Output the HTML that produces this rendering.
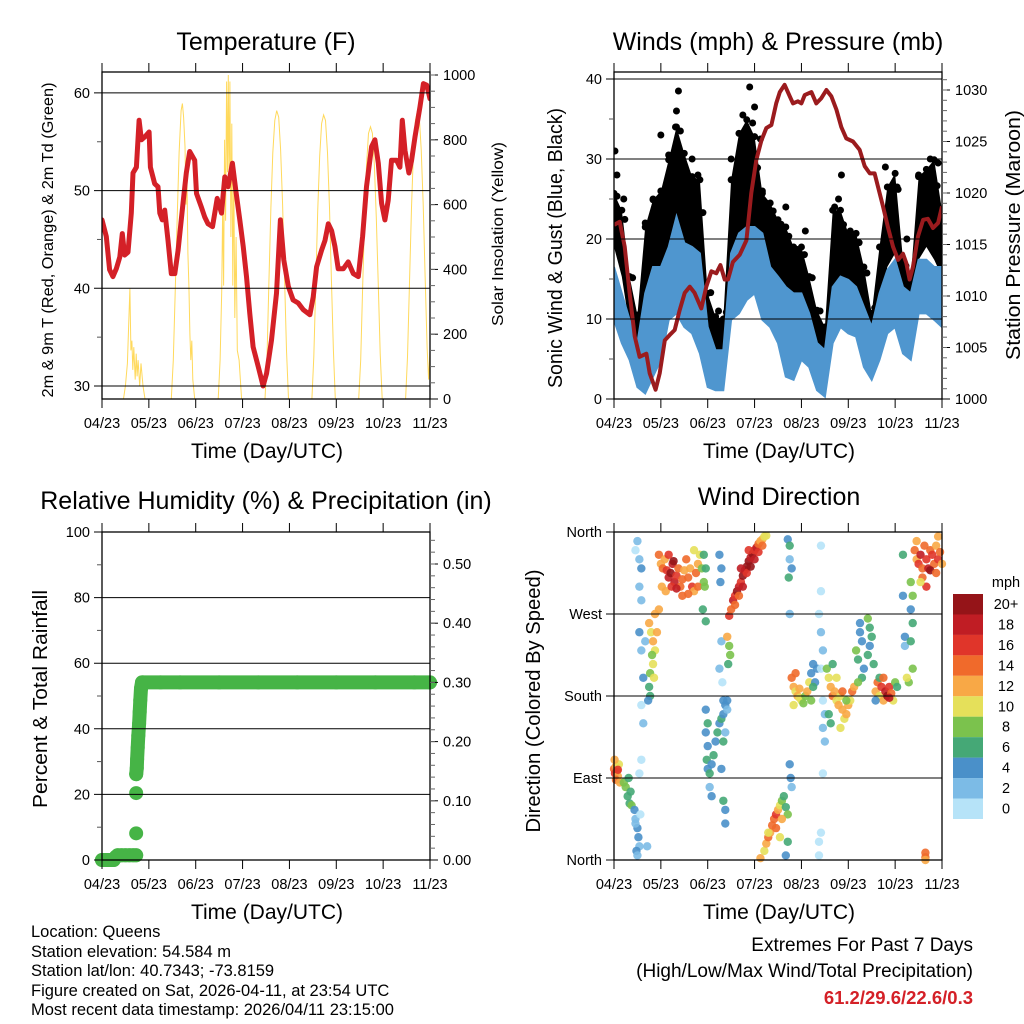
<!DOCTYPE html>
<html><head><meta charset="utf-8"><style>
html,body{margin:0;padding:0;background:#fff;}
svg{display:block;font-family:"Liberation Sans",Arial,sans-serif;}
</style></head><body>
<svg id="chart" width="1024" height="1024" viewBox="0 0 1024 1024" xmlns="http://www.w3.org/2000/svg">
<rect x="0" y="0" width="1024" height="1024" fill="#fff"/>
<defs>
<clipPath id="c1"><rect x="102" y="72" width="328" height="327"/></clipPath>
<clipPath id="c2"><rect x="614" y="72" width="328" height="327"/></clipPath>
<clipPath id="c3"><rect x="94" y="524" width="345" height="345"/></clipPath>
<clipPath id="c4"><rect x="606" y="524" width="345" height="345"/></clipPath>
</defs>
<g id="marks"></g>
<g id="axes"></g>
<g fill="#000">
<text x="266" y="50" font-size="25" text-anchor="middle">Temperature (F)</text>
<text x="778" y="50" font-size="25" text-anchor="middle">Winds (mph) &amp; Pressure (mb)</text>
<text x="266" y="509" font-size="25" text-anchor="middle">Relative Humidity (%) &amp; Precipitation (in)</text>
<text x="779" y="505" font-size="25" text-anchor="middle">Wind Direction</text>
<text x="267" y="458" font-size="21" text-anchor="middle">Time (Day/UTC)</text>
<text x="779" y="458" font-size="21" text-anchor="middle">Time (Day/UTC)</text>
<text x="267" y="919" font-size="21" text-anchor="middle">Time (Day/UTC)</text>
<text x="779" y="919" font-size="21" text-anchor="middle">Time (Day/UTC)</text>
<text transform="translate(53,240) rotate(-90)" font-size="16" text-anchor="middle" textLength="315" lengthAdjust="spacingAndGlyphs">2m &amp; 9m T (Red, Orange) &amp; 2m Td (Green)</text>
<text transform="translate(503,234) rotate(-90)" font-size="16" text-anchor="middle" textLength="184" lengthAdjust="spacingAndGlyphs">Solar Insolation (Yellow)</text>
<text transform="translate(562,248) rotate(-90)" font-size="20" text-anchor="middle" textLength="280" lengthAdjust="spacingAndGlyphs">Sonic Wind &amp; Gust (Blue, Black)</text>
<text transform="translate(1020,235) rotate(-90)" font-size="20" text-anchor="middle" textLength="250" lengthAdjust="spacingAndGlyphs">Station Pressure (Maroon)</text>
<text transform="translate(47,699) rotate(-90)" font-size="20" text-anchor="middle" textLength="218" lengthAdjust="spacingAndGlyphs">Percent &amp; Total Rainfall</text>
<text transform="translate(540,701) rotate(-90)" font-size="20" text-anchor="middle" textLength="263" lengthAdjust="spacingAndGlyphs">Direction (Colored By Speed)</text>
</g>
<g font-size="16.5" fill="#000">
<text x="31" y="937">Location: Queens</text>
<text x="31" y="957">Station elevation: 54.584 m</text>
<text x="31" y="976">Station lat/lon: 40.7343; -73.8159</text>
<text x="31" y="996">Figure created on Sat, 2026-04-11, at 23:54 UTC</text>
<text x="31" y="1015">Most recent data timestamp: 2026/04/11 23:15:00</text>
</g>
<g text-anchor="end">
<text x="973" y="951" font-size="19">Extremes For Past 7 Days</text>
<text x="973" y="977" font-size="19">(High/Low/Max Wind/Total Precipitation)</text>
<text x="973" y="1004" font-size="18.5" font-weight="bold" fill="#d42027">61.2/29.6/22.6/0.3</text>
</g>
</svg>
<script>
// ---------- DATA ----------
const dayLabels = ["04/23","05/23","06/23","07/23","08/23","09/23","10/23","11/23"];
const tempT = [0,2.2,3.9,5.6,7.3,9.1,10.4,11.6,13.3,15.0,15.9,17.6,19.0,20.2,21.9,24.1,24.8,27.0,28.7,29.6,30.9,32.1,33.8,35.5,37.3,39.0,41.5,43.2,44.9,47.5,48.4,50.9,52.6,54.3,56.6,59.0,61.2,62.9,64.6,66.8,68.5,70.6,72.3,74.0,75.7,77.4,80.0,82.5,84.3,86.8,89.4,91.4,93.1,95.4,97.9,100.5,103.1,106.5,108.2,109.9,112.5,114.2,115.9,117.6,119.3,121.0,123.6,126.1,128.7,131.3,133.5,135.5,138.1,139.8,141.5,143.2,144.9,146.6,148.3,150.9,152.6,153.8,155.2,157.2,158.6,160.3,162.9,164.6,166.3,168];
const tempV = [47.0,45.3,41.9,41.2,42.0,43.2,45.6,43.4,43.7,47.7,51.8,52.4,57.2,55.2,55.5,56.0,52.4,50.7,50.4,47.7,47.0,48.0,44.9,41.5,41.5,43.9,48.7,51.8,54.0,53.1,49.7,48.3,47.3,46.6,46.3,49.2,47.7,51.4,50.4,52.8,50.1,47.0,44.3,41.2,37.4,34.0,32.0,30.0,31.3,34.7,39.5,47.0,42.9,40.2,38.8,38.5,37.8,37.3,39.1,42.2,43.9,44.9,46.6,45.9,44.3,42.0,42.0,42.7,41.5,41.2,45.3,50.4,54.5,55.2,52.8,48.7,47.0,49.0,53.1,53.1,52.4,57.2,54.1,51.8,53.1,55.5,58.6,60.95,60.8,59.4];
const solarT = [11,12,13,13.8,14.3,14.8,15.3,15.8,16.3,17,17.5,18,18.5,19.3,20,21,22, 35.5,36.5,37.5,38.5,39.5,40.5,41.2,41.8,42.5,43,43.5,44,44.5,45,45.5,46,46.5,47.5, 59.5,60.5,61.3,61.8,62.3,62.8,63.3,63.8,64.3,64.7,65.1,65.5,66,66.5,67,67.5,68,68.7,69.3,70.2,71.5, 83.5,84.5,85.5,86.5,87.5,88.5,89.5,90.5,91.5,92.5,93.5,94.5,95.5, 107.5,108.5,109.5,110.5,111.5,112.5,113.5,114.5,115.5,116.5,117.5,118.5,119.5, 131.5,132.5,133.5,134.5,135.5,136.5,137.5,138.5,139.5,140.5,141.5,142.5,143.5, 155.5,156.5,157.5,158.5,159.5,160.5,161.5,162.5,163.5,164.5,165.5,166.5,167.3,168];
const solarV = [0,40,110,250,340,150,180,90,160,60,140,70,120,40,110,40,0, 0,120,330,560,760,890,912,870,780,600,700,450,350,200,120,180,60,0, 0,120,330,600,350,800,550,980,700,1000,650,980,500,850,350,700,250,500,150,120,0, 0,130,360,590,760,860,890,870,770,600,380,150,0, 0,130,355,580,750,850,877,860,760,590,370,150,0, 0,120,340,560,720,820,840,820,720,560,350,140,0, 0,130,360,590,760,860,887,870,770,600,380,160,60,150];
const presT = [0,2.9,5.5,8.0,10.6,13.1,16.6,18.3,21.3,23.4,26.0,28.5,31.1,33.6,36.2,38.8,41.3,44.7,47.3,49.9,52.4,54.5,56.7,58.4,60.9,64.4,67.8,70.3,72.9,75.5,78.0,80.6,83.1,84.9,87.4,90.0,91.7,94.2,96.0,97.7,101.1,103.6,106.2,108.8,111.3,113.9,116.4,119.0,122.4,125.8,128.4,131.0,133.5,135.2,137.8,140.3,142.9,145.5,148.0,149.7,151.4,153.1,155.7,158.3,160.8,163.4,166.0,168];
const presV = [1016.9,1017.2,1014.8,1010.3,1006.1,1004.1,1004.4,1002.5,1000.9,1002.5,1005.7,1006.2,1006.7,1008.6,1010.3,1010.9,1010.3,1008.8,1010.9,1012.4,1012.2,1013.0,1011.6,1011.6,1013.3,1014.0,1015.4,1020.0,1023.2,1025.1,1026.3,1026.6,1028.7,1029.8,1030.5,1029.4,1028.7,1028.9,1028.7,1029.5,1029.8,1028.7,1029.2,1030.0,1029.4,1028.1,1026.4,1025.3,1025.0,1024.2,1022.6,1021.9,1021.9,1020.6,1018.7,1016.7,1014.8,1013.5,1014.1,1013.2,1011.6,1012.8,1015.8,1017.4,1017.5,1016.6,1017.1,1018.7];
const windT = [0,4,8,12,16,20,24,28,32,36,40,44,48,52,56,60,64,68,72,76,80,84,88,92,96,100,104,108,112,116,120,124,128,132,136,140,144,148,152,156,160,164,168];
const windHi = [16.5,13.2,9.9,7.0,13.2,16.5,16.5,19.0,22.8,19.5,19.0,18.2,9.0,6.1,6.1,18.2,20.7,21.5,21.5,20.7,16.5,15.3,14.0,13.2,13.2,10.7,7.0,6.1,14.0,15.3,14.9,14.0,11.5,9.0,13.2,16.1,17.4,14.0,13.2,17.4,17.4,16.5,16.5];
const windLo = [9.9,7.0,4.9,1.5,0.7,2.8,4.9,9.9,10.7,9.0,8.2,5.7,1.5,1.1,1.1,9.9,10.7,12.4,13.2,9.9,9.0,7.0,2.8,2.4,4.9,4.0,1.1,0.3,7.0,9.0,8.2,7.8,4.0,2.4,4.9,8.2,9.0,5.7,4.9,10.7,10.7,9.9,9.0];
const gustHi = [25.7,23.6,15.3,10.5,21.5,24.9,26.0,29.9,34.0,30.7,27.8,27.4,13.2,10.3,10.0,27.4,33.2,34.9,32.8,25.7,24.5,22.4,21.5,19.0,19.0,15.3,11.1,9.0,23.6,23.6,20.7,20.7,16.5,10.7,19.0,26.5,28.2,17.4,15.3,27.8,28.7,29.9,23.6];
const gustLo = [19.0,15.3,9.0,3.5,7.0,13.2,14.0,17.4,19.5,17.4,15.3,13.2,7.4,5.7,5.7,16.5,19.5,21.5,19.0,17.4,16.5,15.3,13.2,12.4,11.1,9.0,4.9,2.4,13.2,14.0,13.2,12.4,9.0,6.1,9.9,16.5,18.2,9.9,7.8,17.4,19.0,17.4,15.3];
const gustPkT = [0.5,1.5,5,16,20,24,28,31.5,32,33,34,40,43,60,66,69.5,71,72,75,76,88,98,113,115,116.5,121,139,145,150,156,159,162,166];
const gustPkV = [31,28,25,22,25,33,30.5,34,36,38.5,33.5,30,28,30,35.5,39,34.5,36.5,32.5,26,24,21,24,25,28,21,29,26.5,20,28,27,30,29.5];
const precipT = [0,2,4,6,7,8,10,12,14,16,17.5,17.5,17.5,17.5,17.8,18,18.3,18.6,19,19.3,19.6,20,20.5,21,30,40,60,80,100,120,140,160,168];
const precipV = [0,0,0,0,0.005,0.008,0.008,0.008,0.008,0.008,0.008,0.045,0.113,0.145,0.155,0.17,0.19,0.21,0.23,0.25,0.27,0.29,0.30,0.30,0.30,0.30,0.30,0.30,0.30,0.30,0.30,0.30,0.30];
const dirT = [0,0.5,1,1.5,2,2.5,1,3,0.3,2, 5,6,7,8,9,8.5,7.5, 10.5,11,12,12.5,13,11.5,12,11,13.5, 12,11,13,14,13,14,13,16,14,15,14,15,14,13,17, 18,19,20,21,19.5,20,18.5,21,23,22,20.5, 18,18.5,17.5,
23,24,25,26,27,28,29,30,31,32,33,34,35,36,37,38,39,40,41,42,43,44,45,46,24.5,26.5,29.5,35,38,41,43,30.5,28,32,
46,47,46.5,45.5,47, 54,55,54.5,55,54,55.5,56,
47,48,47,48,47.5,48,49,50,51,52,53,54,55,56,57,58,56,55,49,50,57,58, 56,57,57, 58,59,59.5,58.5,
59,60,61,62,63,64,65,66,67,68,69,70,71,72,73,74,75,76,77,78,62,64,66,68,70,72,74,76,65,69,
75,77,78,79,80,81,82,83,84,85,86,87,88,89,79,83,86,85,89,88, 90,90.5,91, 89,90,90,91,89.5,90,
91,92,93,94,95,96,97,98,99,100,101,92,93,95, 101,102,103,104,102,
105,106,107,106,107,108,107,108,107,106,106,105,106,105,
109,110,111,112,113,114,115,116,117,118,119,120,121,122,123,110,112,114,117,119,111,116,
124,125,126,127,128,127,125,126, 130,131,132,131,130,133,
134,135,136,137,138,139,140,141,142,143,144,145,136,134,138,141, 148,148,149,149, 152,153,152,153,152,153,151,150,
154,155,156,157,158,159,160,161,162,163,164,165,166,167,168,155,158,160,162,165,157,166, 159.5,159.5,159.5];
const dirDeg = [100,95,103,98,92,105,88,85,110,99, 85,80,70,62,60,75,90, 55,45,35,25,15,10,5,40,50, 350,340,330,320,300,285,250,240,230,200,170,150,110,95,15, 260,250,240,230,225,215,205,270,275,250,200, 190,180,175,
335,325,320,330,318,310,315,325,305,312,320,300,308,318,330,310,320,300,295,315,325,335,320,305,300,295,300,290,292,340,300,328,335,298,
335,320,300,275,262, 335,320,305,240,210,195,175,
165,150,140,125,110,100,95,105,115,130,140,150,155,160,170,165,130,100,80,70,140,175, 65,55,40, 245,235,225,215,
268,275,285,290,295,300,305,312,318,322,328,332,336,340,343,347,350,352,355,356,280,290,300,315,322,330,338,345,320,340,
2,10,18,25,30,38,45,50,55,60,65,70,58,50,30,35,45,25,20,5, 105,90,80, 352,345,330,320,310,270,
200,190,185,180,178,175,172,180,185,195,175,170,205,188, 205,215,195,210,190,
270,250,230,210,175,160,145,130,95,345,295,20,30,5,
210,200,190,180,185,175,170,180,165,155,160,170,175,185,190,160,215,200,185,175,150,145,
230,220,250,240,210,200,195,260, 265,255,245,235,225,215,
185,195,180,190,175,185,180,190,183,175,195,190,200,175,200,178, 335,290,245,235, 305,290,275,260,240,210,195,200,
340,330,325,335,320,345,330,320,340,335,325,345,330,338,325,350,310,300,318,315,305,355, 8,3,0];
const dirSpd = [14,16,12,15,13,10,14,12,13,17, 8,9,7,6,8,6,6, 4,3,4,4,3,4,3,2,1, 2,1,3,4,2,3,4,2,3,4,0,3,1,0,2, 12,11,13,10,9,10,8,12,12,13,11, 6,6,4,
14,12,15,13,16,18,20,19,18,16,14,15,14,12,14,15,13,16,12,14,12,10,8,9,12,13,16,14,15,11,14,20,16,18,
7,6,8,7,6, 4,4,4,3,2,1,4,
4,6,4,4,6,4,6,4,6,4,6,4,6,4,4,3,6,4,2,4,2,4, 6,4,4, 12,8,8,7,
16,14,18,16,20,18,16,20,18,20,20,18,20,16,18,14,12,12,10,11,14,14,18,16,20,18,16,14,18,16,
12,10,13,14,12,15,14,16,13,10,8,7,6,8,10,15,12,11,7,4, 4,4,3, 4,6,2,4,6,2,
14,12,10,12,11,10,8,9,12,10,8,10,15,13, 4,4,5,4,6,
1,2,2,1,1,2,2,2,0,0,0,0,0,0,
8,10,12,14,12,10,12,11,12,10,13,12,10,14,13,7,6,10,14,8,6,11,
8,7,4,4,4,6,8,4, 8,7,6,4,6,7,
12,14,10,16,12,18,20,16,14,10,8,7,6,4,14,18, 6,4,4,2, 8,8,4,6,6,8,9,10,
14,12,16,18,14,15,16,18,14,16,14,12,16,15,13,12,14,16,20,14,10,12, 14,14,12];
const speedLabels = ["20+","18","16","14","12","10","8","6","4","2","0"];
const speedColors = ["#951418","#c01d24","#e0352a","#f06a2b","#f8a846","#e5e05a","#7bc24d","#45a876","#4a90c9","#7cbbe6","#b6e3f8"];

// ---------- HELPERS ----------
const NS = "http://www.w3.org/2000/svg";
const marks = document.getElementById("marks");
const axes = document.getElementById("axes");
function mk(tag, attrs, parent, name) {
  const e = document.createElementNS(NS, tag);
  for (const k in attrs) e.setAttribute(k, attrs[k]);
  
  
  parent.appendChild(e);
  return e;
}
function txt(x, y, s, size, anchor, parent, name) {
  const e = mk("text", {x: x, y: y, "font-size": size, "text-anchor": anchor}, parent, name);
  e.textContent = s;
  return e;
}
const xs = x0 => t => x0 + t / 168 * 328;
const x1s = xs(102), x2s = xs(614);
const yTemp = v => 386 - (v - 30) * 9.77;
const ySol = v => 399 - v * 0.324;
const yWind = v => 399 - v * 8;
const yPres = p => 399 - (p - 1000) * 10.3;
const yPct = v => 860 - v * 3.28;
const yIn = v => 860 - v * 592;
const yDir = d => 860 - d / 360 * 328;

function frame(x0, y0, x1, y1, name) {
  const g = mk("g", {}, axes, name);
  mk("rect", {x: x0, y: y0, width: x1 - x0, height: y1 - y0, fill: "none", stroke: "#000", "stroke-width": 1.3}, g, name + "-border");
  for (let i = 0; i < dayLabels.length; i++) {
    const x = x0 + i * 328 / 7;
    mk("line", {x1: x, x2: x, y1: y1, y2: y1 + 9, stroke: "#000", "stroke-width": 1}, g, "x-tick");
    mk("line", {x1: x, x2: x, y1: y0 - 9, y2: y0, stroke: "#000", "stroke-width": 1}, g, "x-tick-top");
    txt(x, y1 + 29, dayLabels[i], 14.5, "middle", g, "x-tick-label");
  }
  return g;
}
function leftAxis(g, x0, x1, vals, labels, yf, grid, minors) {
  vals.forEach((v, i) => {
    const y = yf(v);
    if (grid) mk("line", {x1: x0 - 8, x2: x1, y1: y, y2: y, stroke: "#000", "stroke-width": 1}, g, "gridline");
    else mk("line", {x1: x0 - 8, x2: x0, y1: y, y2: y, stroke: "#000"}, g, "y-tick");
    txt(x0 - 12, y + 5, labels[i], 14.5, "end", g, "y-tick-label");
  });
  (minors || []).forEach(v => mk("line", {x1: x0 - 5, x2: x0, y1: yf(v), y2: yf(v), stroke: "#555"}, g, "y-minor-tick"));
}
function rightAxis(g, x1, vals, labels, yf, minors) {
  vals.forEach((v, i) => {
    const y = yf(v);
    mk("line", {x1: x1, x2: x1 + 8, y1: y, y2: y, stroke: "#000"}, g, "y2-tick");
    txt(x1 + 13, y + 5, labels[i], 14.5, "start", g, "y2-tick-label");
  });
  minors.forEach(v => mk("line", {x1: x1, x2: x1 + 5, y1: yf(v), y2: yf(v), stroke: "#666"}, g, "y2-minor-tick"));
}
function rng(a, b, s) { const r = []; for (let v = a; v <= b + 1e-9; v += s) r.push(+v.toFixed(4)); return r; }
function path(xsArr, ysArr) { return xsArr.map((x, i) => (i ? "L" : "M") + x.toFixed(1) + "," + ysArr[i].toFixed(1)).join(""); }

// ---------- PANEL 1: TEMPERATURE ----------
const p1 = mk("g", {"clip-path": "url(#c1)"}, marks, "temperature-plot");
mk("path", {d: path(solarT.map(x1s), solarV.map(ySol)), fill: "none", stroke: "#ffd54a", "stroke-width": 1, opacity: 0.9}, p1, "solar-line");
mk("path", {d: path(tempT.map(x1s), tempV.map(yTemp)), fill: "none", stroke: "#d42027", "stroke-width": 5, "stroke-linejoin": "round", "stroke-linecap": "round"}, p1, "temperature-line");
const a1 = frame(102, 72, 430, 399, "temperature-axes");
leftAxis(a1, 102, 430, [30, 40, 50, 60], ["30", "40", "50", "60"], yTemp, true, [35, 45, 55]);
rightAxis(a1, 430, [0, 200, 400, 600, 800, 1000], ["0", "200", "400", "600", "800", "1000"], ySol, rng(50, 1000, 50));

// ---------- PANEL 2: WINDS ----------
const p2 = mk("g", {"clip-path": "url(#c2)"}, marks, "winds-plot");
const wx = windT.map(x2s);
mk("path", {d: path(wx, gustHi.map(yWind)) + path(wx.slice().reverse(), gustLo.map(yWind).reverse()).replace("M", "L") + "Z", fill: "#000"}, p2, "gust-band");
windT.forEach((t, i) => {
  mk("circle", {cx: x2s(t), cy: yWind(gustHi[i]), r: 3.5, fill: "#000"}, p2, "gust-point");
  mk("circle", {cx: x2s(t) + 3, cy: yWind((gustHi[i] + gustLo[i]) / 2 + 3), r: 3.5, fill: "#000"}, p2, "gust-point");
});
gustPkT.forEach((t, i) => mk("circle", {cx: x2s(t), cy: yWind(gustPkV[i]), r: 3.5, fill: "#000"}, p2, "gust-peak-point"));
mk("path", {d: path(wx, windHi.map(yWind)) + path(wx.slice().reverse(), windLo.map(yWind).reverse()).replace("M", "L") + "Z", fill: "#4f96cf", stroke: "#4f96cf", "stroke-width": 2}, p2, "wind-band");
mk("path", {d: path(presT.map(x2s), presV.map(yPres)), fill: "none", stroke: "#9b1b1e", "stroke-width": 4, "stroke-linejoin": "round"}, p2, "pressure-line");
const a2 = frame(614, 72, 942, 399, "winds-axes");
leftAxis(a2, 614, 942, [0, 10, 20, 30, 40], ["0", "10", "20", "30", "40"], yWind, true, [5, 15, 25, 35]);
rightAxis(a2, 942, [1000, 1005, 1010, 1015, 1020, 1025, 1030], ["1000", "1005", "1010", "1015", "1020", "1025", "1030"], yPres, rng(1001, 1031, 1));

// ---------- PANEL 3: HUMIDITY / PRECIP ----------
const p3 = mk("g", {"clip-path": "url(#c3)"}, marks, "precip-plot");
const px = precipT.map(x1s), py = precipV.map(yIn);
mk("path", {d: path(px.slice(13), py.slice(13)), fill: "none", stroke: "#46b446", "stroke-width": 14, "stroke-linecap": "round", "stroke-linejoin": "round"}, p3, "precip-line");
mk("path", {d: path(px.slice(0, 11), py.slice(0, 11)), fill: "none", stroke: "#46b446", "stroke-width": 14, "stroke-linecap": "round", "stroke-linejoin": "round"}, p3, "precip-line-early");
precipT.forEach((t, i) => mk("circle", {cx: x1s(t), cy: yIn(precipV[i]), r: 7, fill: "#46b446"}, p3, "precip-point"));
const a3 = frame(102, 532, 430, 860, "humidity-axes");
leftAxis(a3, 102, 430, [0, 20, 40, 60, 80, 100], ["0", "20", "40", "60", "80", "100"], yPct, true, [10, 30, 50, 70, 90]);
rightAxis(a3, 430, [0, 0.1, 0.2, 0.3, 0.4, 0.5], ["0.00", "0.10", "0.20", "0.30", "0.40", "0.50"], yIn, rng(0.02, 0.54, 0.02));

// ---------- PANEL 4: WIND DIRECTION ----------
const p4 = mk("g", {"clip-path": "url(#c4)"}, marks, "direction-plot");
dirT.forEach((t, i) => {
  const bin = Math.min(10, Math.floor(dirSpd[i] / 2));
  mk("circle", {cx: x2s(t), cy: yDir(dirDeg[i]), r: 4.2, fill: speedColors[10 - bin], opacity: 0.9}, p4, "direction-point");
});
const a4 = frame(614, 532, 942, 860, "direction-axes");
leftAxis(a4, 614, 942, [0, 90, 180, 270, 360], ["North", "East", "South", "West", "North"], yDir, false, []);
[90, 180, 270].forEach(d => mk("line", {x1: 606, x2: 942, y1: yDir(d), y2: yDir(d), stroke: "#000"}, a4, "gridline"));

// ---------- LEGEND ----------
const lg = mk("g", {}, axes, "speed-legend");
txt(1006, 587, "mph", 14.5, "middle", lg, "legend-unit");
speedLabels.forEach((s, i) => {
  const y = 594 + i * 20.45;
  mk("rect", {x: 953, y: y, width: 30, height: 20.5, fill: speedColors[i]}, lg, "legend-swatch");
  txt(1006, y + 15, s, 14.5, "middle", lg, "legend-label");
});
</script>
</body></html>
